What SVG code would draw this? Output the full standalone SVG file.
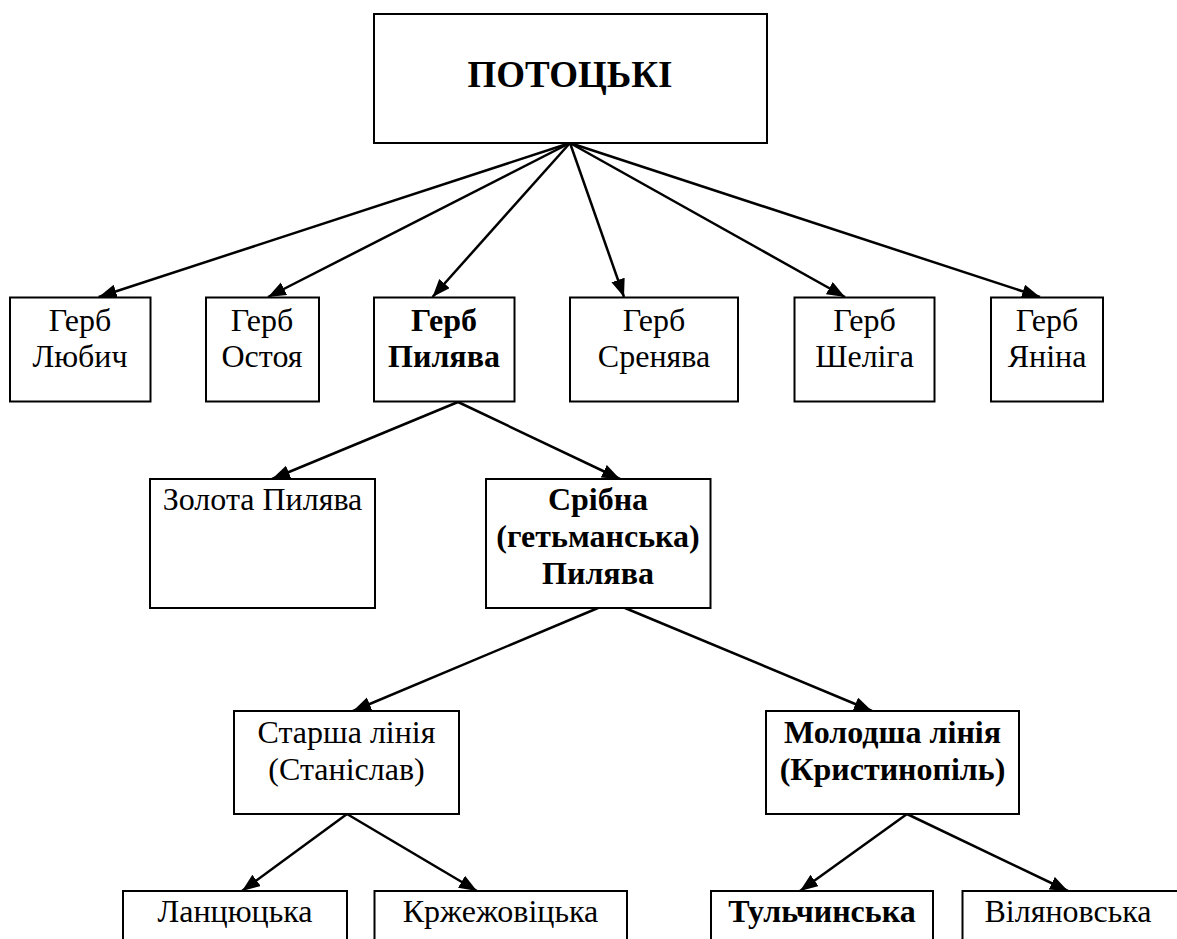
<svg xmlns="http://www.w3.org/2000/svg" width="1177" height="939" viewBox="0 0 1177 939">
<style>
.box{fill:#fff;stroke:#000;stroke-width:2}
.b{font-weight:bold}
.top{font-size:37px}
.c{stroke:#000;stroke-width:2.5;fill:none;marker-end:url(#ah)}
</style>
<defs>
<marker id="ah" markerUnits="userSpaceOnUse" markerWidth="19" markerHeight="15" refX="18" refY="7" orient="auto">
<path d="M0,0 L18,7 L0,14 z" fill="#000"/>
</marker>
</defs>
<rect width="1177" height="939" fill="#fff"/>
<g id="connectors">
<line class="c" x1="570" y1="143" x2="98.7" y2="297"/>
<line class="c" x1="570" y1="143" x2="268" y2="297"/>
<line class="c" x1="570" y1="143" x2="432.5" y2="297"/>
<line class="c" x1="570" y1="143" x2="624" y2="297"/>
<line class="c" x1="570" y1="143" x2="845" y2="297"/>
<line class="c" x1="570" y1="143" x2="1040" y2="297"/>
<line class="c" x1="458" y1="402" x2="272" y2="479"/>
<line class="c" x1="458" y1="402" x2="620" y2="479"/>
<line class="c" x1="598" y1="608" x2="353" y2="711"/>
<line class="c" x1="625" y1="608" x2="872" y2="711"/>
<line class="c" x1="347" y1="814" x2="242" y2="891"/>
<line class="c" x1="347" y1="814" x2="477" y2="891"/>
<line class="c" x1="907" y1="814" x2="800" y2="891"/>
<line class="c" x1="907" y1="814" x2="1068" y2="891"/>
</g>
<g font-family="Liberation Serif, DejaVu Serif, serif" font-size="32" fill="#000" text-anchor="middle">
<g id="n-top"><rect class="box" x="374" y="14" width="393" height="129"/><text class="b top" x="570" y="87">ПОТОЦЬКІ</text></g>
<g id="n-lyubych"><rect class="box" x="10" y="297.5" width="140.5" height="104"/><text x="80" y="331">Герб</text><text x="80" y="367">Любич</text></g>
<g id="n-ostoya"><rect class="box" x="206" y="297.5" width="113" height="104"/><text x="262" y="331">Герб</text><text x="262" y="367">Остоя</text></g>
<g id="n-pylyava"><rect class="box" x="374" y="297.5" width="140.5" height="104"/><text class="b" x="444" y="331">Герб</text><text class="b" x="444" y="367">Пилява</text></g>
<g id="n-srenyava"><rect class="box" x="570" y="297.5" width="168" height="104"/><text x="654" y="331">Герб</text><text x="654" y="367">Сренява</text></g>
<g id="n-sheliga"><rect class="box" x="794.5" y="297.5" width="140" height="104"/><text x="864.5" y="331">Герб</text><text x="864.5" y="367">Шеліга</text></g>
<g id="n-yanina"><rect class="box" x="991" y="297.5" width="112" height="104"/><text x="1047" y="331">Герб</text><text x="1047" y="367">Яніна</text></g>
<g id="n-zolota"><rect class="box" x="150" y="479" width="225" height="129"/><text x="262.5" y="510">Золота Пилява</text></g>
<g id="n-sribna"><rect class="box" x="486" y="479" width="224.5" height="129"/><text class="b" x="598" y="510">Срібна</text><text class="b" x="598" y="547">(гетьманська)</text><text class="b" x="598" y="584">Пилява</text></g>
<g id="n-starsha"><rect class="box" x="234" y="711" width="225" height="103"/><text x="346.5" y="743">Старша лінія</text><text x="346.5" y="780">(Станіслав)</text></g>
<g id="n-molodsha"><rect class="box" x="766" y="711" width="253" height="103"/><text class="b" x="892.5" y="743">Молодша лінія</text><text class="b" x="892.5" y="780">(Кристинопіль)</text></g>
<g id="n-lantsut"><rect class="box" x="123" y="891" width="224" height="70"/><text x="235" y="922">Ланцюцька</text></g>
<g id="n-krzh"><rect class="box" x="374.5" y="891" width="252.5" height="70"/><text x="500.5" y="922">Кржежовіцька</text></g>
<g id="n-tulch"><rect class="box" x="711" y="891" width="222" height="70"/><text class="b" x="822" y="922">Тульчинська</text></g>
<g id="n-vilyan"><rect class="box" x="962.5" y="891" width="240" height="70"/><text x="1068" y="922">Віляновська</text></g>
</g>
</svg>
